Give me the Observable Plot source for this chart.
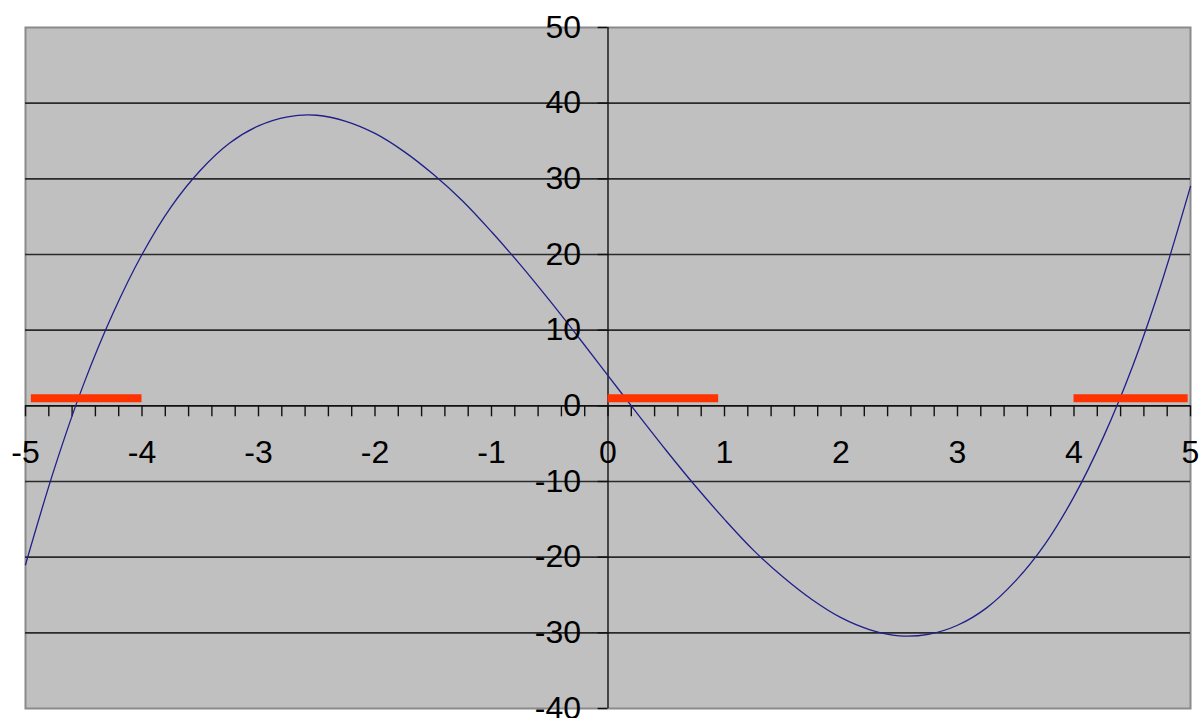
<!DOCTYPE html>
<html>
<head>
<meta charset="utf-8">
<script src="https://cdn.jsdelivr.net/npm/d3@7"></script>
<script src="https://cdn.jsdelivr.net/npm/@observablehq/plot@0.6"></script>
<style>
  html, body { margin: 0; padding: 0; background: #ffffff; overflow: hidden; }
  #chart svg { display: block; font-family: "Liberation Sans", Arial, sans-serif; }
</style>
</head>
<body>
<div id="chart"></div>
<script>
// Curve samples
const curveX = [-5, -4.75, -4.5, -4.25, -4, -3.75, -3.5, -3.25, -3, -2.75, -2.5, -2.25, -2, -1.75, -1.5, -1.25, -1, -0.75, -0.5, -0.25, 0,
                0.25, 0.5, 0.75, 1, 1.25, 1.5, 1.75, 2, 2.25, 2.5, 2.75, 3, 3.25, 3.5, 3.75, 4, 4.25, 4.5, 4.75, 5];
const curveY = [-21, -8.2, 2.9, 12.2, 20, 26.3, 31.1, 34.7, 37, 38.2, 38.4, 37.6, 36, 33.6, 30.6, 27.1, 23, 18.6, 13.9, 9, 4,
                -1, -5.9, -10.6, -15, -19.1, -22.6, -25.6, -28, -29.6, -30.4, -30.2, -29, -26.7, -23.1, -18.3, -12, -4.2, 5.1, 16.2, 29];

// Red interval segments
const segStart = [-4.95, 0, 4];
const segEnd = [-4, 0.95, 4.98];
const segLevel = [1, 1, 1];

// Axis ticks
const xTickLabels = [-5, -4, -3, -2, -1, 0, 1, 2, 3, 4, 5];
const xMinorTicks = [-5, -4.8, -4.6, -4.4, -4.2, -4, -3.8, -3.6, -3.4, -3.2, -3, -2.8, -2.6, -2.4, -2.2, -2, -1.8, -1.6, -1.4, -1.2, -1,
                     -0.8, -0.6, -0.4, -0.2, 0, 0.2, 0.4, 0.6, 0.8, 1, 1.2, 1.4, 1.6, 1.8, 2, 2.2, 2.4, 2.6, 2.8, 3, 3.2, 3.4, 3.6, 3.8,
                     4, 4.2, 4.4, 4.6, 4.8, 5];
const yTickLabels = [-40, -30, -20, -10, 0, 10, 20, 30, 40, 50];
const yGridLines = [-30, -20, -10, 10, 20, 30, 40];

const curve = curveX.map((x, i) => ({x, y: curveY[i]}));
const segs = segStart.map((s, i) => ({x1: s, x2: segEnd[i], y: segLevel[i]}));

const chart = Plot.plot({
  width: 1199,
  height: 718,
  marginLeft: 25,
  marginRight: 9,
  marginTop: 27,
  marginBottom: 10,
  x: {domain: [-5, 5], axis: null},
  y: {domain: [-40, 50], axis: null},
  style: {fontFamily: "Liberation Sans, Arial, sans-serif", background: "#ffffff"},
  marks: [
    Plot.frame({fill: "#c0c0c0", stroke: "#8a8a8a", strokeWidth: 2}),
    Plot.ruleY(yGridLines, {stroke: "#2a2a2a", strokeWidth: 1.6}),
    Plot.ruleY([0], {stroke: "#111", strokeWidth: 1.6}),
    Plot.ruleX([0], {y1: -40, y2: 50, stroke: "#111", strokeWidth: 1.4}),
    Plot.ruleX(xMinorTicks, {x: d => d, y1: 0, y2: -1.45, stroke: "#111", strokeWidth: 1.4}),
    Plot.ruleY(yTickLabels, {y: d => d, x1: -0.085, x2: 0, stroke: "#111", strokeWidth: 1.4}),
    Plot.line(curve, {x: "x", y: "y", curve: "catmull-rom", stroke: "#1f1f8a", strokeWidth: 1.3}),
    Plot.ruleY(segs, {x1: "x1", x2: "x2", y: "y", stroke: "#ff3300", strokeWidth: 8}),
    Plot.text(xTickLabels, {x: d => d, y: 0, dy: 47, text: d => String(d), fontSize: 32, fill: "#000"}),
    Plot.text(yTickLabels, {x: 0, y: d => d, dx: -27, text: d => String(d), textAnchor: "end", fontSize: 32, fill: "#000"})
  ]
});
document.getElementById("chart").appendChild(chart);
</script>
</body>
</html>
